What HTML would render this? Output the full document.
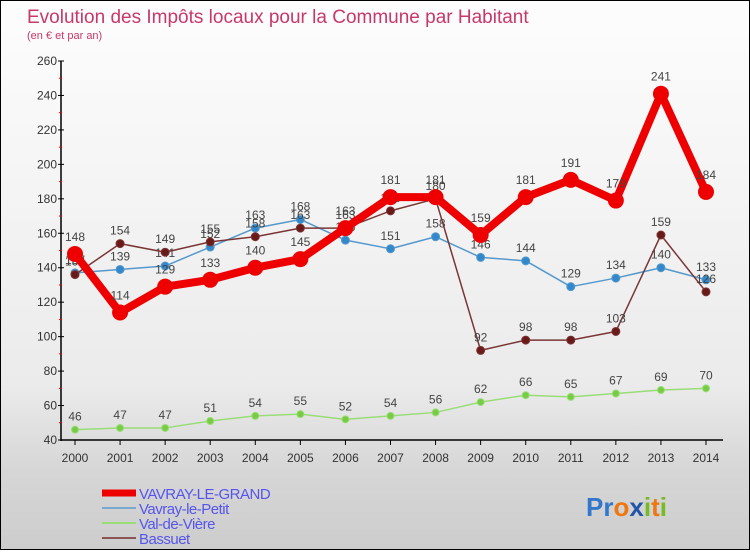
<!DOCTYPE html>
<html><head><meta charset="utf-8"><style>
html,body{margin:0;padding:0}
body{width:750px;height:550px;overflow:hidden;font-family:"Liberation Sans","DejaVu Sans",sans-serif}
#wrap{position:relative;width:748px;height:548px;border:1px solid #000;background:linear-gradient(#fdfdfd 0%,#ebebeb 70%,#d6d6d6 86%,#cdcdcd 100%)}
svg text{font-family:"Liberation Sans","DejaVu Sans",sans-serif}
</style></head><body>
<div id="wrap">
<svg id="chart" width="748" height="548"></svg>
</div>
<script>
const years=["2000","2001","2002","2003","2004","2005","2006","2007","2008","2009","2010","2011","2012","2013","2014"];
const grand=[148,114,129,133,140,145,163,181,181,159,181,191,179,241,184];
const petit=[137,139,141,152,163,168,156,151,158,146,144,129,134,140,133];
const viere=[46,47,47,51,54,55,52,54,56,62,66,65,67,69,70];
const bassuet=[136,154,149,155,158,163,163,173,180,92,98,98,103,159,126];
const yTicks=[40,60,80,100,120,140,160,180,200,220,240,260];
const NS="http://www.w3.org/2000/svg";
const svg=document.getElementById('chart');
const X=i=>74+i*(705-74)/(years.length-1);
const Y=v=>439-(v-40)*(379/220);
function el(t,a,p){const e=document.createElementNS(NS,t);for(const k in a)e.setAttribute(k,a[k]);(p||svg).appendChild(e);return e;}
const t1=el('text',{x:26,y:22,'font-size':19,fill:'#c8386a'});t1.textContent="Evolution des Impôts locaux pour la Commune par Habitant";


const t2=el('text',{x:26,y:38,'font-size':11,fill:'#c8386a'});t2.textContent="(en € et par an)";


const ya=el('line',{x1:60,y1:Y(260),x2:60,y2:Y(40)+1,stroke:'#000','stroke-width':1.5});


const xa=el('line',{x1:60,y1:Y(40),x2:722,y2:Y(40),stroke:'#000','stroke-width':1.5});


yTicks.forEach((v,i)=>{
  el('line',{x1:57,x2:63,y1:Y(v),y2:Y(v),stroke:'#000'});
  if(i<yTicks.length-1) el('line',{x1:58,x2:61,y1:Y(v+10),y2:Y(v+10),stroke:'#e00'});
  const t=el('text',{x:56,y:Y(v)+4,'font-size':12,'text-anchor':'end',fill:'#333'});t.textContent=v;
  
  
});
years.forEach((y,i)=>{
  el('line',{x1:X(i),x2:X(i),y1:Y(40),y2:Y(40)+5,stroke:'#000'});
  const t=el('text',{x:X(i),y:Y(40)+22,'font-size':12,'text-anchor':'middle',fill:'#333'});t.textContent=y;
  
  
});
function series(vals,color,w,r,ptFill,name){
  const g=el('g',{});
  
  
  el('polyline',{points:vals.map((v,i)=>X(i)+','+Y(v)).join(' '),fill:'none',stroke:color,'stroke-width':w,'stroke-linejoin':'round'},g);
  vals.forEach((v,i)=>{
    const c=el('circle',{cx:X(i),cy:Y(v),r:r,fill:ptFill,stroke:color,'stroke-width':1},g);
    
    
    const t=el('text',{x:X(i),y:Y(v)-9-(r>5?4:0),'font-size':12,'text-anchor':'middle',fill:'#444'},g);t.textContent=v;
    
    
  });
}
series(viere,'#99dd77',1.5,3.5,'#77cc44','series-val-de-viere');
series(petit,'#5599cc',1.5,4,'#3388cc','series-vavray-le-petit');
series(bassuet,'#7a3535',1.5,4,'#6b1a1a','series-bassuet');
series(grand,'#ee0000',8,7.5,'#ee0000','series-vavray-le-grand');
const leg=[["VAVRAY-LE-GRAND","#ee0000",7],["Vavray-le-Petit","#7aaad0",2],["Val-de-Vière","#99dd77",2],["Bassuet","#8a5555",2]];
leg.forEach((l,i)=>{
  const g=el('g',{});
  
  
  const yy=492+i*15;
  el('line',{x1:101,x2:135,y1:yy,y2:yy,stroke:l[1],'stroke-width':l[2]},g);
  const t=el('text',{x:138,y:yy+6,'font-size':15,fill:'#5555ee','letter-spacing':'-0.5'},g);t.textContent=l[0];
});
const lgT=el('text',{x:585,y:515,'font-size':26,'font-weight':'bold'});


[["Pr","#3377cc"],["o","#ee7711"],["x","#2255aa"],["i","#77bb22"],["t","#ee7711"],["i","#77bb22"]].forEach(p=>{const s=el('tspan',{fill:p[1]},lgT);s.textContent=p[0];});
</script>
</body></html>
